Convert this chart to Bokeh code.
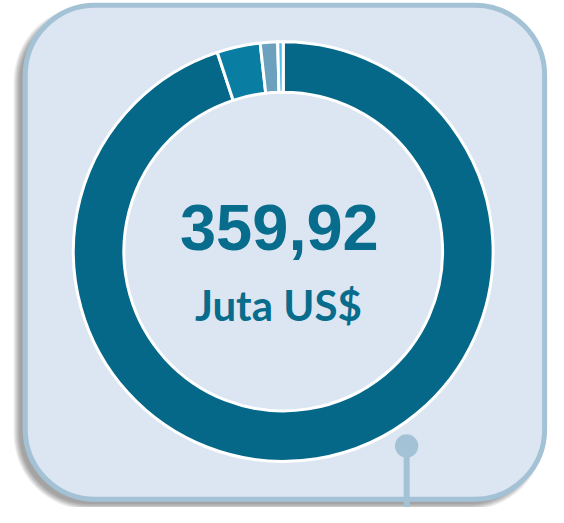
import math
from bokeh.plotting import figure
from bokeh.models import Range1d, ColumnDataSource
from bokeh.core.properties import value
from bokeh.embed import file_html
from bokeh.resources import INLINE

# ---- data ----
segments = ["Segmen 1", "Segmen 2", "Segmen 3", "Segmen 4"]
amounts = [341.60, 12.00, 4.80, 1.52]
colors = ["#056889", "#0A7DA3", "#6BA0BE", "#52BDE9"]
unit_label = "Juta US$"

total = sum(amounts)
total_label = f"{total:.2f}".replace(".", ",")

# ---- layout (reference pixel coordinates, y measured downward) ----
W_REF, H_REF = 564, 523
def Y(v):
    return H_REF - v

PANEL_L, PANEL_R, PANEL_T, PANEL_B = 25.5, 560.0, 5.0, 514.5
CX, CY = 291.0, 259.0
R_OUT, R_IN = 216.0, 164.0

p = figure(width=548, height=507, output_backend="svg", toolbar_location=None,
           x_range=Range1d(0, W_REF), y_range=Range1d(0, H_REF),
           min_border=0)
p.axis.visible = False
p.grid.visible = False
p.outline_line_color = None
p.background_fill_color = "white"
p.border_fill_color = "white"

# shadow (offset left/down, soft layers)
for d in [6, 5, 4, 3, 2, 1, 0]:
    p.quad(left=PANEL_L - 6 - d, right=PANEL_R - 6 + d,
           top=Y(PANEL_T + 6 - d), bottom=Y(PANEL_B + 5 + d),
           fill_color="black", fill_alpha=0.06, line_color=None,
           border_radius=70 + d)

# panel
p.quad(left=PANEL_L, right=PANEL_R, top=Y(PANEL_T), bottom=Y(PANEL_B),
       fill_color="#DCE6F2", line_color="#A4C2D6", line_width=5,
       border_radius=70)

# donut
cum = [0.0]
for a in amounts:
    cum.append(cum[-1] + a)
starts = [math.pi / 2 - 2 * math.pi * cum[i] / total for i in range(len(amounts))]
ends = [math.pi / 2 - 2 * math.pi * cum[i + 1] / total for i in range(len(amounts))]
src = ColumnDataSource(dict(seg=segments, val=amounts, color=colors,
                            start=starts, end=ends,
                            x=[CX] * len(amounts), y=[Y(CY)] * len(amounts)))
p.annular_wedge(x="x", y="y", inner_radius=R_IN, outer_radius=R_OUT,
                start_angle="start", end_angle="end", direction="clock",
                fill_color="color", line_color="white", line_width=3, source=src)

# connector
p.segment(x0=[418], y0=[Y(459.5)], x1=[418], y1=[Y(540)],
          line_color="#A4C2D6", line_width=6)
p.circle(x=[418], y=[Y(459.5)], radius=12, fill_color="#A4C2D6", line_color=None)

# texts
p.text(x=[287], y=[Y(234)], text=[total_label], text_align="center",
       text_baseline="middle", text_color="#086C8C",
       text_font=value("Liberation Sans"), text_font_style="bold",
       text_font_size=value("65px"))
p.text(x=[286], y=[Y(314)], text=[unit_label], text_align="center",
       text_baseline="middle", text_color="#086C8C",
       text_font=value("Lato"), text_font_style="bold",
       text_font_size=value("42px"))

open("out.html", "w").write(file_html(p, INLINE))
